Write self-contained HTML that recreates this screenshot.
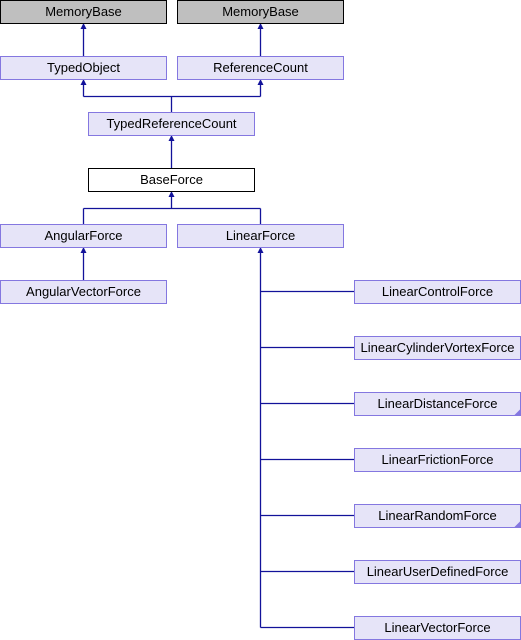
<!DOCTYPE html>
<html><head><meta charset="utf-8"><style>
html,body{margin:0;padding:0;background:#fff}
svg{display:block}
text{font-family:"Liberation Sans",Helvetica,sans-serif;font-size:13px;text-anchor:middle}
.n{fill:#e6e4f8;stroke:#8477e0;stroke-width:1}
.g{fill:#bfbfbf;stroke:#000;stroke-width:1}
.w{fill:#fff;stroke:#000;stroke-width:1}
.l{stroke:#12129a;stroke-width:1.3;fill:none}
.a{fill:#12129a}
</style></head><body>
<svg width="521" height="640" viewBox="0 0 521 640" xmlns="http://www.w3.org/2000/svg">
<path class="l" d="M83.5 56V28 M260.5 56V28"/>
<polygon class="a" points="83.5,23 80.5,29 86.5,29"/>
<polygon class="a" points="260.5,23 257.5,29 263.5,29"/>
<path class="l" d="M171.5 112V96.5 M83.5 96.5H260.5 M83.5 96.5V84 M260.5 96.5V84"/>
<polygon class="a" points="83.5,79 80.5,85 86.5,85"/>
<polygon class="a" points="260.5,79 257.5,85 263.5,85"/>
<path class="l" d="M171.5 168V140"/>
<polygon class="a" points="171.5,135 168.5,141 174.5,141"/>
<path class="l" d="M171.5 208.5V196 M83.5 208.5H260.5 M83.5 208.5V224 M260.5 208.5V224"/>
<polygon class="a" points="171.5,191 168.5,197 174.5,197"/>
<path class="l" d="M83.5 280V252"/>
<polygon class="a" points="83.5,247 80.5,253 86.5,253"/>
<path class="l" d="M260.5 252V627.5 M260.5 291.5H354 M260.5 347.5H354 M260.5 403.5H354 M260.5 459.5H354 M260.5 515.5H354 M260.5 571.5H354 M260.5 627.5H354"/>
<polygon class="a" points="260.5,247 257.5,253 263.5,253"/>
<rect class="g" x="0.5" y="0.5" width="166" height="23"/><text x="83.5" y="16">MemoryBase</text>
<rect class="g" x="177.5" y="0.5" width="166" height="23"/><text x="260.5" y="16">MemoryBase</text>
<rect class="n" x="0.5" y="56.5" width="166" height="23"/><text x="83.5" y="72">TypedObject</text>
<rect class="n" x="177.5" y="56.5" width="166" height="23"/><text x="260.5" y="72">ReferenceCount</text>
<rect class="n" x="88.5" y="112.5" width="166" height="23"/><text x="171.5" y="128">TypedReferenceCount</text>
<rect class="w" x="88.5" y="168.5" width="166" height="23"/><text x="171.5" y="184">BaseForce</text>
<rect class="n" x="0.5" y="224.5" width="166" height="23"/><text x="83.5" y="240">AngularForce</text>
<rect class="n" x="177.5" y="224.5" width="166" height="23"/><text x="260.5" y="240">LinearForce</text>
<rect class="n" x="0.5" y="280.5" width="166" height="23"/><text x="83.5" y="296">AngularVectorForce</text>
<rect class="n" x="354.5" y="280.5" width="166" height="23"/><text x="437.5" y="296">LinearControlForce</text>
<rect class="n" x="354.5" y="336.5" width="166" height="23"/><text x="437.5" y="352">LinearCylinderVortexForce</text>
<rect class="n" x="354.5" y="392.5" width="166" height="23"/><text x="437.5" y="408">LinearDistanceForce</text>
<polygon fill="#8477e0" points="520.5,409 520.5,415.5 514,415.5"/>
<rect class="n" x="354.5" y="448.5" width="166" height="23"/><text x="437.5" y="464">LinearFrictionForce</text>
<rect class="n" x="354.5" y="504.5" width="166" height="23"/><text x="437.5" y="520">LinearRandomForce</text>
<polygon fill="#8477e0" points="520.5,521 520.5,527.5 514,527.5"/>
<rect class="n" x="354.5" y="560.5" width="166" height="23"/><text x="437.5" y="576">LinearUserDefinedForce</text>
<rect class="n" x="354.5" y="616.5" width="166" height="23"/><text x="437.5" y="632">LinearVectorForce</text>
</svg>
</body></html>
